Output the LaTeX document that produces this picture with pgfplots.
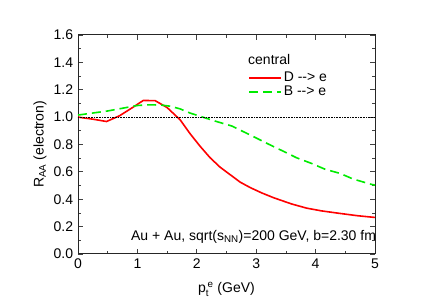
\documentclass[border=0pt]{standalone}
\usepackage{fontspec}
\setmainfont{Liberation Sans}
\usepackage{amsmath}
\usepackage{pgfplots}
\pgfplotsset{compat=1.18}
\definecolor{dred}{RGB}{255,0,0}
\definecolor{dgreen}{RGB}{0,235,0}
\begin{document}
\fontsize{14pt}{16pt}\selectfont
\begin{tikzpicture}[x=1pt,y=1pt]
\path[use as bounding box] (0,0) rectangle (436,305);
\begin{axis}[
  at={(78pt,51pt)}, anchor=origin,
  scale only axis, width=297pt, height=219pt,
  xmin=0, xmax=5, ymin=0, ymax=1.6,
  xtick={0,1,2,3,4,5}, ytick={0,0.2,...,1.6},
  minor x tick num=1, minor y tick num=1,
  tick pos=both, ticklabel pos=left, tick align=inside,
  major tick length=5pt, minor tick length=3pt,
  axis line style={line width=1pt, black!85},
  every tick/.style={line width=0.8pt, black!75},
  /pgf/number format/assume math mode=true,
  yticklabel style={/pgf/number format/.cd, fixed, fixed zerofill, precision=1},
  xticklabel style={/pgf/number format/.cd, fixed, precision=0},
  tick label style={font=\fontsize{14pt}{16pt}\selectfont},
  xlabel={p$_{\text{t}}^{\,\text{e}}$ (GeV)},
  ylabel={R$_{\text{AA}}$ (electron)},
  label style={font=\fontsize{14pt}{16pt}\selectfont},
  xlabel style={yshift=-4pt},
  ylabel style={at={(axis description cs:-0.128,0.5)}, anchor=center, rotate=0},
  legend style={at={(axis cs:2.862,1.345)}, anchor=north west, draw=none, fill=none,
    font=\fontsize{14pt}{15pt}\selectfont, row sep=-1.5pt, inner sep=0pt},
  legend cell align=left,
  legend image code/.code={\draw[#1] (0pt,0pt) -- (32pt,0pt);},
  clip=false,
]
\addplot[dred, line width=1.6pt] coordinates {
(0,1.0) (0.25,0.985) (0.48,0.968) (0.7,1.01) (0.9,1.065) (1.1,1.122) (1.3,1.12)
(1.5,1.07) (1.72,0.98) (1.885,0.88) (2.05,0.79) (2.22,0.705) (2.39,0.635)
(2.56,0.58) (2.73,0.525) (2.9,0.485) (3.1,0.445) (3.3,0.41) (3.6,0.365)
(3.85,0.335) (4.1,0.315) (4.4,0.297) (4.7,0.28) (5.0,0.267)};
\addlegendentry{D {-}{-}> e}
\addplot[dgreen, line width=1.6pt, dash pattern=on 9pt off 5pt] coordinates {
(0,1.015) (0.5,1.045) (1.0,1.085) (1.2,1.09) (1.4,1.088) (1.55,1.08) (1.72,1.06)
(1.885,1.03) (2.1,1.0) (2.3,0.972) (2.59,0.935) (2.98,0.852) (3.22,0.80)
(3.46,0.75) (3.68,0.703) (3.93,0.662) (4.16,0.619) (4.41,0.589) (4.63,0.548)
(4.92,0.511) (5.0,0.503)};
\addlegendentry{B {-}{-}> e}
\addplot[black, densely dotted, line width=0.6pt, forget plot] coordinates {(0,1) (5,1)};
\node[anchor=base west, inner sep=0pt, font=\fontsize{14pt}{16pt}\selectfont] at (axis cs:2.862,1.388) {central};
\node[anchor=base east, inner sep=0pt, font=\fontsize{14pt}{16pt}\selectfont] at (axis cs:5.02,0.102) {Au + Au, sqrt(s$_{\text{NN}}$)=200 GeV, b=2.30 fm};
\end{axis}
\end{tikzpicture}
\end{document}
